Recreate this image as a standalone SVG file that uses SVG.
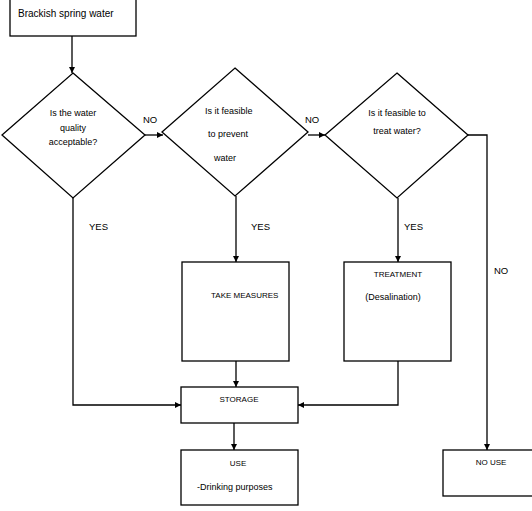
<svg xmlns="http://www.w3.org/2000/svg" width="532" height="511" viewBox="0 0 532 511">
<defs>
<marker id="arr" viewBox="0 0 10 10" refX="10" refY="5" markerWidth="6" markerHeight="6" markerUnits="userSpaceOnUse" orient="auto">
<path d="M0,0 L10,5 L0,10 z" fill="#000"/>
</marker>
<style>
.shape{fill:#fff;stroke:#000;stroke-width:1.3}
.conn{fill:none;stroke:#000;stroke-width:1.3}
text{font-family:"Liberation Sans",Arial,sans-serif;fill:#000}
.lc{font-size:9px}
.uc{font-size:8px}
.lbl{font-size:9.5px}
.c{text-anchor:middle}
</style>
</defs>
<rect width="532" height="511" fill="#fff"/>
<g id="connectors">
<path class="conn" d="M72,36 V73" marker-end="url(#arr)"/>
<path class="conn" d="M145,135 H163" marker-end="url(#arr)"/>
<path class="conn" d="M308,135 H325" marker-end="url(#arr)"/>
<path class="conn" d="M468,135 H487 V450" marker-end="url(#arr)"/>
<path class="conn" d="M236,196 V262" marker-end="url(#arr)"/>
<path class="conn" d="M398,198 V262" marker-end="url(#arr)"/>
<path class="conn" d="M236,361 V387" marker-end="url(#arr)"/>
<path class="conn" d="M73,198 V405 H181" marker-end="url(#arr)"/>
<path class="conn" d="M398,361 V405 H298" marker-end="url(#arr)"/>
<path class="conn" d="M234,423 V450" marker-end="url(#arr)"/>
<text class="lbl" x="143" y="123">NO</text>
<text class="lbl" x="305" y="123">NO</text>
<text class="lbl" x="89" y="230">YES</text>
<text class="lbl" x="251" y="230">YES</text>
<text class="lbl" x="404" y="230">YES</text>
<text class="lbl" x="494" y="274">NO</text>
</g>
<g id="start">
<rect class="shape" x="10" y="-1" width="126" height="37"/>
<text x="18" y="17" style="font-size:10px">Brackish spring water</text>
</g>
<g id="d1">
<polygon class="shape" points="73,73 145,135 73,198 2,135"/>
<text class="lc c" x="73" y="116">Is the water</text>
<text class="lc c" x="73" y="131">quality</text>
<text class="lc c" x="73" y="145">acceptable?</text>
</g>
<g id="d2">
<polygon class="shape" points="235,68 308,132 235,196 162,132"/>
<text class="lc" x="205" y="114">Is it feasible</text>
<text class="lc" x="208" y="137">to prevent</text>
<text class="lc" x="214" y="161">water</text>
</g>
<g id="d3">
<polygon class="shape" points="397,73 468,135 397,198 325,135"/>
<text class="lc c" x="397" y="116">Is it feasible to</text>
<text class="lc c" x="397" y="134">treat water?</text>
</g>
<g id="measures">
<rect class="shape" x="182" y="262" width="107" height="99"/>
<text class="uc" x="211" y="298">TAKE MEASURES</text>
</g>
<g id="treatment">
<rect class="shape" x="344" y="262" width="107" height="99"/>
<text class="uc c" x="398" y="277">TREATMENT</text>
<text class="lc c" x="393" y="300">(Desalination)</text>
</g>
<g id="storage">
<rect class="shape" x="181" y="387" width="117" height="36"/>
<text class="uc c" x="239" y="402">STORAGE</text>
</g>
<g id="use">
<rect class="shape" x="181" y="450" width="117" height="55"/>
<text class="uc c" x="238" y="466">USE</text>
<text class="lc" x="197" y="490">-Drinking purposes</text>
</g>
<g id="nouse">
<rect class="shape" x="443" y="450" width="92" height="46"/>
<text class="uc c" x="491" y="465">NO USE</text>
</g>
</svg>
